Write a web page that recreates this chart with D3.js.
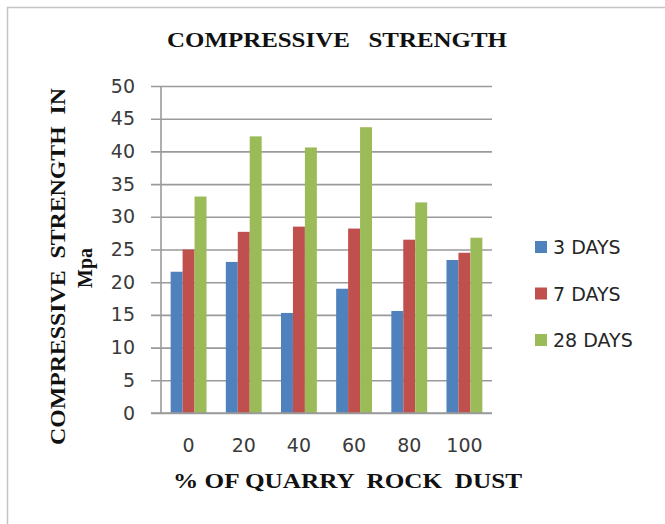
<!DOCTYPE html>
<html>
<head>
<meta charset="utf-8">
<script src="https://cdn.jsdelivr.net/npm/d3@7"></script>
<style>
  html, body { margin: 0; padding: 0; background: #fff; }
  svg { display: block; }
</style>
</head>
<body>
<svg id="chart" width="665" height="524"></svg>
<script>
const categories = ["0", "20", "40", "60", "80", "100"];
const seriesNames = ["3 DAYS", "7 DAYS", "28 DAYS"];
const days3 = [21.6, 23.1, 15.3, 19.0, 15.6, 23.4];
const days7 = [25.0, 27.7, 28.5, 28.2, 26.5, 24.5];
const days28 = [33.1, 42.3, 40.6, 43.7, 32.2, 26.8];
const yTicks = [0, 5, 10, 15, 20, 25, 30, 35, 40, 45, 50];
const colors = ["#4f81bd", "#c0504d", "#9bbb59"];

const seriesValues = [days3, days7, days28];
const svg = d3.select("#chart");

// outer frame
svg.append("rect").attr("x", 7.5).attr("y", 7.5).attr("width", 700).attr("height", 600)
  .attr("fill", "none").attr("stroke", "#c4c4c4").attr("stroke-width", 1.5);

const plot = { left: 161, right: 492, top: 86, bottom: 413 };

const x0 = d3.scaleBand().domain(categories).range([plot.left, plot.right])
  .paddingInner(0.35).paddingOuter(0.175);
const x1 = d3.scaleBand().domain(seriesNames).range([0, x0.bandwidth()]);
const y = d3.scaleLinear().domain([0, 50]).range([plot.bottom, plot.top]);

// gridlines with ticks
const yAxis = d3.axisLeft(y).tickValues(yTicks)
  .tickSize(-(plot.right - plot.left)).tickSizeOuter(0).tickPadding(16);
const gy = svg.append("g").attr("transform", `translate(${plot.left},0)`).call(yAxis);
gy.select(".domain").remove();
gy.selectAll(".tick line").attr("x1", -10).attr("stroke", "#9a9a9a").attr("stroke-width", 1.6);
gy.selectAll(".tick text").attr("font-family", "DejaVu Sans").attr("font-size", 19)
  .attr("fill", "#3a3a3a").attr("x", -26);

// vertical axis line
svg.append("line").attr("x1", plot.left).attr("x2", plot.left)
  .attr("y1", y(50)).attr("y2", y(0)).attr("stroke", "#9a9a9a").attr("stroke-width", 1.6);

// bars
const groups = svg.append("g").selectAll("g").data(categories).join("g")
  .attr("transform", d => `translate(${x0(d)},0)`);
groups.selectAll("rect")
  .data((c, i) => seriesNames.map((s, k) => ({ s, k, v: seriesValues[k][i] })))
  .join("rect")
  .attr("x", d => x1(d.s))
  .attr("width", x1.bandwidth())
  .attr("y", d => y(d.v))
  .attr("height", d => y(0) - y(d.v))
  .attr("fill", d => colors[d.k]);

// x axis labels
const xAxis = d3.axisBottom(x0).tickSize(0).tickPadding(0);
const gx = svg.append("g").attr("transform", `translate(0,${plot.bottom})`).call(xAxis);
gx.select(".domain").remove();
gx.selectAll(".tick text").attr("font-family", "DejaVu Sans").attr("font-size", 19)
  .attr("fill", "#3a3a3a").attr("dy", null).attr("y", 39);

// x axis baseline (drawn over bars bottom)
svg.append("line").attr("x1", plot.left - 10).attr("x2", plot.right)
  .attr("y1", y(0)).attr("y2", y(0)).attr("stroke", "#9a9a9a").attr("stroke-width", 1.6);

// title
svg.append("text").attr("x", 167).attr("y", 47)
  .attr("xml:space", "preserve")
  .attr("font-family", "Liberation Serif, Times New Roman, serif").attr("font-weight", "bold")
  .attr("font-size", 22).attr("fill", "#111")
  .attr("textLength", 340).attr("lengthAdjust", "spacingAndGlyphs")
  .text("COMPRESSIVE   STRENGTH");

// x title
svg.append("text").attr("x", 173).attr("y", 488)
  .attr("xml:space", "preserve")
  .attr("font-family", "Liberation Serif, Times New Roman, serif").attr("font-weight", "bold")
  .attr("font-size", 22).attr("fill", "#111")
  .attr("textLength", 349).attr("lengthAdjust", "spacingAndGlyphs")
  .text("% OF QUARRY  ROCK  DUST");

// y title
svg.append("text").attr("transform", "translate(65,445) rotate(-90)")
  .attr("xml:space", "preserve")
  .attr("font-family", "Liberation Serif, Times New Roman, serif").attr("font-weight", "bold")
  .attr("font-size", 22).attr("fill", "#111")
  .attr("textLength", 357).attr("lengthAdjust", "spacingAndGlyphs")
  .text("COMPRESSIVE  STRENGTH  IN");
svg.append("text").attr("transform", "translate(92,268) rotate(-90)")
  .attr("text-anchor", "middle")
  .attr("font-family", "Liberation Serif, Times New Roman, serif").attr("font-weight", "bold")
  .attr("font-size", 20).attr("fill", "#111")
  .text("Mpa");

// legend
const legendY = d3.scalePoint().domain(seriesNames).range([247, 340]);
const lg = svg.append("g").selectAll("g").data(seriesNames).join("g")
  .attr("transform", d => `translate(535,${legendY(d)})`);
lg.append("rect").attr("x", 0).attr("y", -6).attr("width", 12).attr("height", 12)
  .attr("fill", (d, i) => colors[i]);
lg.append("text").attr("x", 18).attr("y", 0).attr("dominant-baseline", "central")
  .attr("font-family", "DejaVu Sans").attr("font-size", 19).attr("fill", "#262626")
  .text(d => d);
</script>
</body>
</html>
